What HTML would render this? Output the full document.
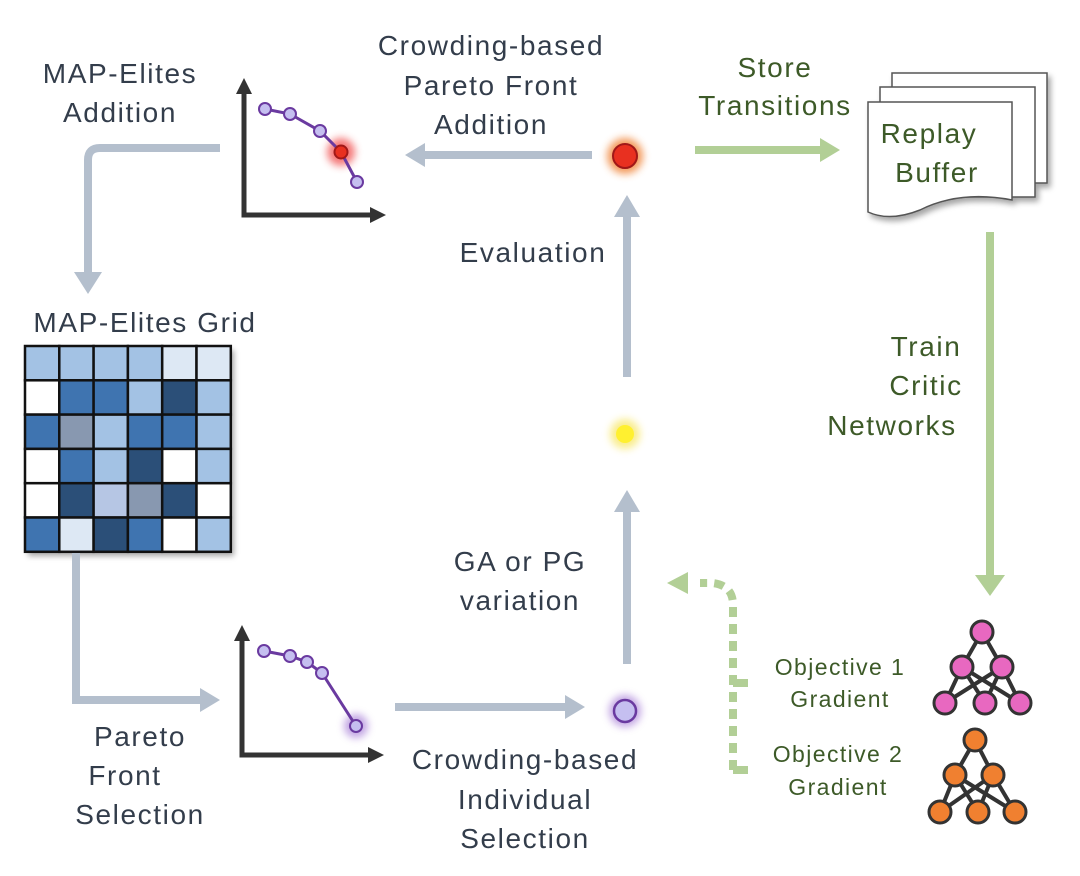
<!DOCTYPE html>
<html><head><meta charset="utf-8"><style>
html,body{margin:0;padding:0;background:#fff;}
svg{display:block}
text{font-family:"Liberation Sans",sans-serif;font-size:28px;letter-spacing:1.6px;fill:#333d4b;text-anchor:middle}
.g{fill:#3d5a28}
.s{font-size:23px;letter-spacing:1.4px}
</style></head><body>
<svg width="1080" height="876" viewBox="0 0 1080 876" xmlns="http://www.w3.org/2000/svg">
<defs>
<filter id="blur" x="-1" y="-1" width="3" height="3"><feGaussianBlur stdDeviation="4"/></filter>
<filter id="sh" x="-0.2" y="-0.2" width="1.4" height="1.4"><feDropShadow dx="3" dy="4" stdDeviation="3" flood-color="#000" flood-opacity="0.35"/></filter>
</defs>
<!-- texts -->
<text x="120" y="83">MAP-Elites</text>
<text x="120" y="122">Addition</text>
<text x="491" y="55">Crowding-based</text>
<text x="491" y="95">Pareto Front</text>
<text x="491" y="134">Addition</text>
<text x="533" y="262">Evaluation</text>
<text x="145" y="332">MAP-Elites Grid</text>
<text class="g" x="775" y="77">Store</text>
<text class="g" x="775" y="115">Transitions</text>
<text class="g" x="926" y="356">Train</text>
<text class="g" x="926" y="395">Critic</text>
<text class="g" x="892" y="435">Networks</text>
<text x="520" y="571">GA or PG</text>
<text x="520" y="610">variation</text>
<text x="140" y="746">Pareto</text>
<text x="125" y="785">Front</text>
<text x="140" y="824">Selection</text>
<text x="525" y="769">Crowding-based</text>
<text x="525" y="809">Individual</text>
<text x="525" y="848">Selection</text>
<text class="g s" x="840" y="675">Objective 1</text>
<text class="g s" x="840" y="707">Gradient</text>
<text class="g s" x="838" y="762">Objective 2</text>
<text class="g s" x="838" y="795">Gradient</text>

<!-- gray arrows -->
<g stroke="#b4bfcd" stroke-width="8" fill="none">
<path d="M220,148 H100 Q88,148 88,160 V272"/>
<path d="M76,553 V700 H200"/>
<path d="M592,155 H425"/>
<path d="M395,707 H565"/>
<path d="M627,664 V510"/>
<path d="M627,377 V215"/>
</g>
<g fill="#b4bfcd">
<polygon points="74,272 102,272 88,294"/>
<polygon points="200,688 200,712 220,700"/>
<polygon points="425,143 425,167 405,155"/>
<polygon points="565,695 565,719 585,707"/>
<polygon points="614,512 640,512 627,490"/>
<polygon points="614,217 640,217 627,195"/>
</g>
<!-- green arrows -->
<g stroke="#b2cf96" stroke-width="8" fill="none">
<path d="M695,150 H820"/>
<path d="M990,232 V575"/>
<path d="M733,770 V605 Q733,585 712,583 H700" stroke-dasharray="10,7"/>
<path d="M733,683 H748 M733,770 H748"/>
</g>
<g fill="#b2cf96">
<polygon points="820,138 820,162 840,150"/>
<polygon points="975,575 1005,575 990,596"/>
<polygon points="688,572 688,594 667,583"/>
</g>

<!-- grid -->
<g filter="url(#sh)">
<rect x="25" y="346" width="206" height="206" fill="#fff"/>
</g>
<g stroke="#111" stroke-width="2.5">
<rect x="25.0" y="346.0" width="34.3" height="34.3" fill="#a3c2e4"/><rect x="59.3" y="346.0" width="34.3" height="34.3" fill="#a3c2e4"/><rect x="93.6" y="346.0" width="34.3" height="34.3" fill="#a3c2e4"/><rect x="127.9" y="346.0" width="34.3" height="34.3" fill="#a3c2e4"/><rect x="162.2" y="346.0" width="34.3" height="34.3" fill="#dde8f4"/><rect x="196.5" y="346.0" width="34.3" height="34.3" fill="#dde8f4"/>
<rect x="25.0" y="380.3" width="34.3" height="34.3" fill="#fff"/><rect x="59.3" y="380.3" width="34.3" height="34.3" fill="#3f74b0"/><rect x="93.6" y="380.3" width="34.3" height="34.3" fill="#3f74b0"/><rect x="127.9" y="380.3" width="34.3" height="34.3" fill="#a3c2e4"/><rect x="162.2" y="380.3" width="34.3" height="34.3" fill="#2b4f78"/><rect x="196.5" y="380.3" width="34.3" height="34.3" fill="#a3c2e4"/>
<rect x="25.0" y="414.6" width="34.3" height="34.3" fill="#3f74b0"/><rect x="59.3" y="414.6" width="34.3" height="34.3" fill="#8898b0"/><rect x="93.6" y="414.6" width="34.3" height="34.3" fill="#a3c2e4"/><rect x="127.9" y="414.6" width="34.3" height="34.3" fill="#3f74b0"/><rect x="162.2" y="414.6" width="34.3" height="34.3" fill="#3f74b0"/><rect x="196.5" y="414.6" width="34.3" height="34.3" fill="#a3c2e4"/>
<rect x="25.0" y="448.9" width="34.3" height="34.3" fill="#fff"/><rect x="59.3" y="448.9" width="34.3" height="34.3" fill="#3f74b0"/><rect x="93.6" y="448.9" width="34.3" height="34.3" fill="#a3c2e4"/><rect x="127.9" y="448.9" width="34.3" height="34.3" fill="#2b4f78"/><rect x="162.2" y="448.9" width="34.3" height="34.3" fill="#fff"/><rect x="196.5" y="448.9" width="34.3" height="34.3" fill="#a3c2e4"/>
<rect x="25.0" y="483.2" width="34.3" height="34.3" fill="#fff"/><rect x="59.3" y="483.2" width="34.3" height="34.3" fill="#2b4f78"/><rect x="93.6" y="483.2" width="34.3" height="34.3" fill="#b6c6e4"/><rect x="127.9" y="483.2" width="34.3" height="34.3" fill="#8898b0"/><rect x="162.2" y="483.2" width="34.3" height="34.3" fill="#2b4f78"/><rect x="196.5" y="483.2" width="34.3" height="34.3" fill="#fff"/>
<rect x="25.0" y="517.5" width="34.3" height="34.3" fill="#3f74b0"/><rect x="59.3" y="517.5" width="34.3" height="34.3" fill="#dde8f4"/><rect x="93.6" y="517.5" width="34.3" height="34.3" fill="#2b4f78"/><rect x="127.9" y="517.5" width="34.3" height="34.3" fill="#3f74b0"/><rect x="162.2" y="517.5" width="34.3" height="34.3" fill="#fff"/><rect x="196.5" y="517.5" width="34.3" height="34.3" fill="#a3c2e4"/>
</g>
<path d="M76,553 V575" stroke="#b4bfcd" stroke-width="8"/>

<!-- top chart -->
<g stroke="#333" stroke-width="5" fill="none"><path d="M244,90 V215 H372"/></g>
<polygon points="236,94 252,94 244,78" fill="#333"/>
<polygon points="370,207 370,223 386,215" fill="#333"/>
<circle cx="341" cy="152" r="14" fill="#f04040" opacity="0.7" filter="url(#blur)"/>
<polyline points="265,109 290,114 320,131 341,152 357,182" fill="none" stroke="#6a3aa0" stroke-width="3"/>
<g fill="#c5bff0" stroke="#6a3aa0" stroke-width="2">
<circle cx="265" cy="109" r="6"/><circle cx="290" cy="114" r="6"/><circle cx="320" cy="131" r="6"/><circle cx="357" cy="182" r="6"/>
</g>
<circle cx="341" cy="152" r="6.5" fill="#e83020" stroke="#a01818" stroke-width="2"/>

<!-- bottom chart -->
<g stroke="#333" stroke-width="5" fill="none"><path d="M242,637 V755 H370"/></g>
<polygon points="234,641 250,641 242,625" fill="#333"/>
<polygon points="368,747 368,763 384,755" fill="#333"/>
<circle cx="356" cy="726" r="12" fill="#9a6ad0" opacity="0.6" filter="url(#blur)"/>
<polyline points="264,651 290,656 307,662 322,673 356,726" fill="none" stroke="#6a3aa0" stroke-width="3"/>
<g fill="#c5bff0" stroke="#6a3aa0" stroke-width="2">
<circle cx="264" cy="651" r="6"/><circle cx="290" cy="656" r="6"/><circle cx="307" cy="662" r="6"/><circle cx="322" cy="673" r="6"/><circle cx="356" cy="726" r="6"/>
</g>

<!-- dots -->
<circle cx="625" cy="156" r="18" fill="#f08030" opacity="0.8" filter="url(#blur)"/>
<circle cx="625" cy="156" r="12" fill="#e83020" stroke="#a01818" stroke-width="2"/>
<circle cx="625" cy="434" r="15" fill="#f8e870" opacity="0.8" filter="url(#blur)"/>
<circle cx="625" cy="434" r="9" fill="#fff030"/>
<circle cx="625" cy="711" r="16" fill="#9a6ad0" opacity="0.6" filter="url(#blur)"/>
<circle cx="625" cy="711" r="11" fill="#c5bff0" stroke="#6a3aa0" stroke-width="2.5"/>

<!-- replay buffer -->
<g filter="url(#sh)" stroke="#555" stroke-width="1.5" fill="#fff">
<rect x="892" y="73" width="155" height="110"/>
<rect x="880" y="87" width="155" height="110"/>
<path d="M868,102 H1012 V200 Q960,190 920,210 Q890,222 868,212 Z"/>
</g>
<text class="g" x="929" y="143">Replay</text>
<text class="g" x="937" y="182">Buffer</text>

<!-- networks -->
<g stroke="#333" stroke-width="4">
<path d="M982,632 L962,667 L945,703 M962,667 L985,703 M982,632 L1002,667 L1020,703 M1002,667 L945,703 M1002,667 L985,703 M962,667 L1020,703"/>
<path d="M975,740 L955,775 L940,812 M955,775 L978,812 M975,740 L993,775 L1015,812 M993,775 L940,812 M993,775 L978,812 M955,775 L1015,812"/>
</g>
<g fill="#e868c0" stroke="#333" stroke-width="3">
<circle cx="982" cy="632" r="11"/><circle cx="962" cy="667" r="11"/><circle cx="1002" cy="667" r="11"/><circle cx="945" cy="703" r="11"/><circle cx="985" cy="703" r="11"/><circle cx="1020" cy="703" r="11"/>
</g>
<g fill="#f08030" stroke="#333" stroke-width="3">
<circle cx="975" cy="740" r="11"/><circle cx="955" cy="775" r="11"/><circle cx="993" cy="775" r="11"/><circle cx="940" cy="812" r="11"/><circle cx="978" cy="812" r="11"/><circle cx="1015" cy="812" r="11"/>
</g>
</svg>
</body></html>
